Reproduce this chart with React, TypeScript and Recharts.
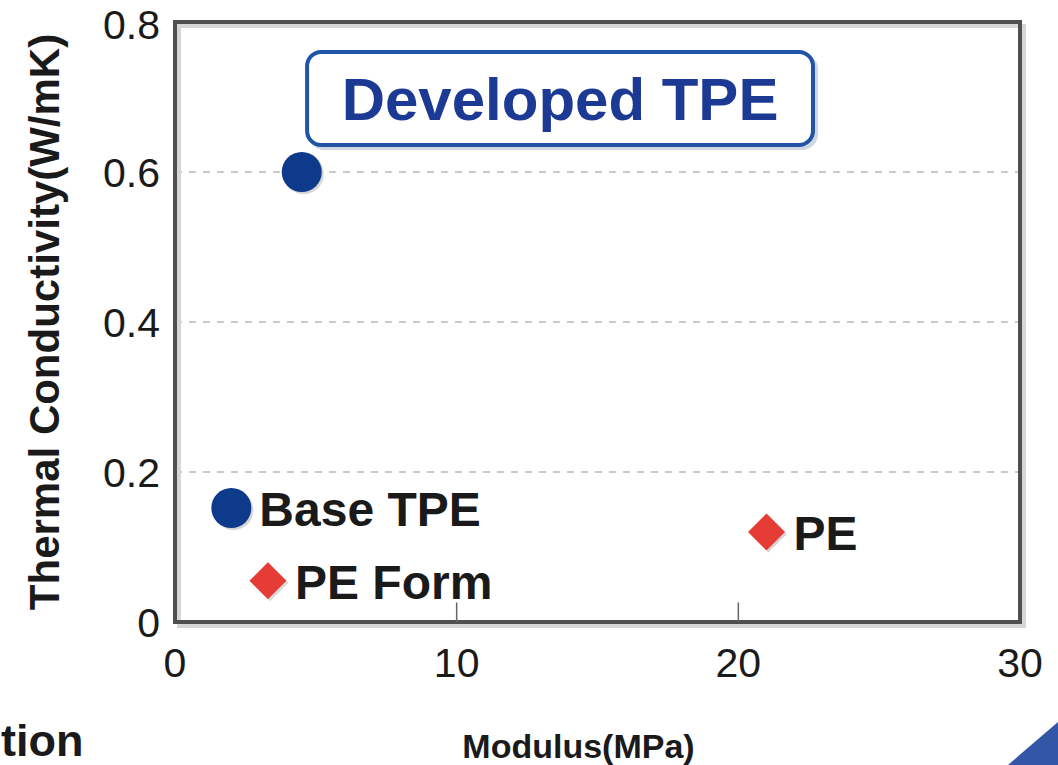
import {
  ScatterChart, Scatter, XAxis, YAxis, CartesianGrid, ReferenceArea,
  ReferenceLine, Customized, Label,
} from "recharts";

type Pt = { x: number; y: number; name: string };

// modulus (MPa) vs thermal conductivity (W/mK)
const developedTpe: Pt[] = [{ x: 4.5, y: 0.6, name: "" }];
const baseTpe: Pt[] = [{ x: 2.0, y: 0.152, name: "Base TPE" }];
const peMaterials: Pt[] = [
  { x: 3.3, y: 0.055, name: "PE Form" },
  { x: 21.0, y: 0.12, name: "PE" },
];

const xTicks = [0, 10, 20, 30];
const yTicks = [0, 0.2, 0.4, 0.6, 0.8];
const minorXTicks = [10, 20];
const calloutText = "Developed TPE";
// callout box corners, in data units
const calloutX = [4.69, 22.65];
const calloutY = [0.636, 0.76];

const FONT = '"Liberation Sans", Arial, Helvetica, sans-serif';
const NAVY = "#0d3a8b";
const RED = "#e63c36";

// eslint-disable-next-line @typescript-eslint/no-explicit-any
function CircleMark(props: any) {
  const { cx, cy, payload } = props;
  return (
    <g>
      <circle cx={cx + 2} cy={cy + 2} r={20} fill="#d4d4d4" />
      <circle cx={cx} cy={cy} r={20} fill={NAVY} />
      {payload.name ? (
        <text x={cx + 28} y={cy + 18} fontSize={48} fontWeight={700} fill="#1a1a1a" fontFamily={FONT}>
          {payload.name}
        </text>
      ) : null}
    </g>
  );
}

// eslint-disable-next-line @typescript-eslint/no-explicit-any
function DiamondMark(props: any) {
  const { cx, cy, payload } = props;
  const h = 18.5;
  const pts = (dx: number) =>
    `${cx + dx},${cy - h + dx} ${cx + h + dx},${cy + dx} ${cx + dx},${cy + h + dx} ${cx - h + dx},${cy + dx}`;
  return (
    <g>
      <polygon points={pts(2)} fill="#d8d8d8" />
      <polygon points={pts(0)} fill={RED} />
      <text x={cx + 27} y={cy + 18} fontSize={48} fontWeight={700} fill="#1a1a1a" fontFamily={FONT}>
        {payload.name}
      </text>
    </g>
  );
}

// eslint-disable-next-line @typescript-eslint/no-explicit-any
function Frame(props: any) {
  const { x, y, width, height } = props;
  return (
    <g>
      <rect x={x + 4} y={y + 4} width={width} height={height} fill="none" stroke="#d6d6d6" strokeWidth={4} />
      <rect x={x} y={y} width={width} height={height} fill="none" stroke="#4f4f4f" strokeWidth={4} />
    </g>
  );
}

// eslint-disable-next-line @typescript-eslint/no-explicit-any
function CalloutBox(props: any) {
  const { x, y, width, height } = props;
  return (
    <g>
      <rect x={x + 3} y={y + 3} width={width} height={height} rx={14} fill="none" stroke="#cfd6e4" strokeWidth={4} />
      <rect x={x} y={y} width={width} height={height} rx={14} fill="#fff" stroke="#2154a6" strokeWidth={4} />
    </g>
  );
}

function Extras() {
  return (
    <g>
      <text x={1} y={756} fontSize={45} fontWeight={700} fill="#1a1a1a" fontFamily={FONT}>tion</text>
      <polygon points="1008,765 1058,722 1058,765" fill="#3356a6" />
    </g>
  );
}

export default function App() {
  return (
    <div style={{ width: 1058, height: 765, background: "#fff" }}>
      <style>{"body{margin:0}"}</style>
      <ScatterChart width={1058} height={765} margin={{ top: 22, right: 38, left: 0, bottom: 0 }}>
        <CartesianGrid vertical={false} stroke="#b8b8b8" strokeDasharray="7 7" strokeWidth={1.5} />
        <XAxis
          type="number" dataKey="x" domain={[0, 30]} ticks={xTicks} height={143}
          axisLine={false} tickLine={false} tickSize={0} tickMargin={26}
          tick={{ fontSize: 41, fill: "#1a1a1a", fontFamily: FONT }}
        >
          <Label
            value="Modulus(MPa)" position="insideBottom" offset={7} dx={-19}
            style={{ fontSize: 34, fontWeight: 700, fill: "#1a1a1a", fontFamily: FONT }}
          />
        </XAxis>
        <YAxis
          type="number" dataKey="y" domain={[0, 0.8]} ticks={yTicks} width={175}
          axisLine={false} tickLine={false} tickSize={0} tickMargin={15}
          tick={{ fontSize: 41, fill: "#1a1a1a", fontFamily: FONT }}
        >
          <Label
            value="Thermal Conductivity(W/mK)" angle={-90} position="insideLeft" offset={44}
            style={{ fontSize: 42, fontWeight: 700, fill: "#1a1a1a", fontFamily: FONT, textAnchor: "middle" }}
          />
        </YAxis>
        <ReferenceArea x1={0} x2={30} y1={0} y2={0.8} shape={Frame} />
        {minorXTicks.map((t) => (
          <ReferenceLine key={t} segment={[{ x: t, y: 0 }, { x: t, y: 0.026 }]} stroke="#666" strokeWidth={1.5} />
        ))}
        <ReferenceArea
          x1={calloutX[0]} x2={calloutX[1]} y1={calloutY[0]} y2={calloutY[1]} shape={CalloutBox}
        >
          <Label
            value={calloutText} position="center"
            style={{ fontSize: 60, fontWeight: 700, fill: "#1c3a94", fontFamily: FONT }}
          />
        </ReferenceArea>
        <Scatter data={developedTpe} shape={CircleMark} isAnimationActive={false} />
        <Scatter data={baseTpe} shape={CircleMark} isAnimationActive={false} />
        <Scatter data={peMaterials} shape={DiamondMark} isAnimationActive={false} />
        <Customized component={Extras} />
      </ScatterChart>
    </div>
  );
}
